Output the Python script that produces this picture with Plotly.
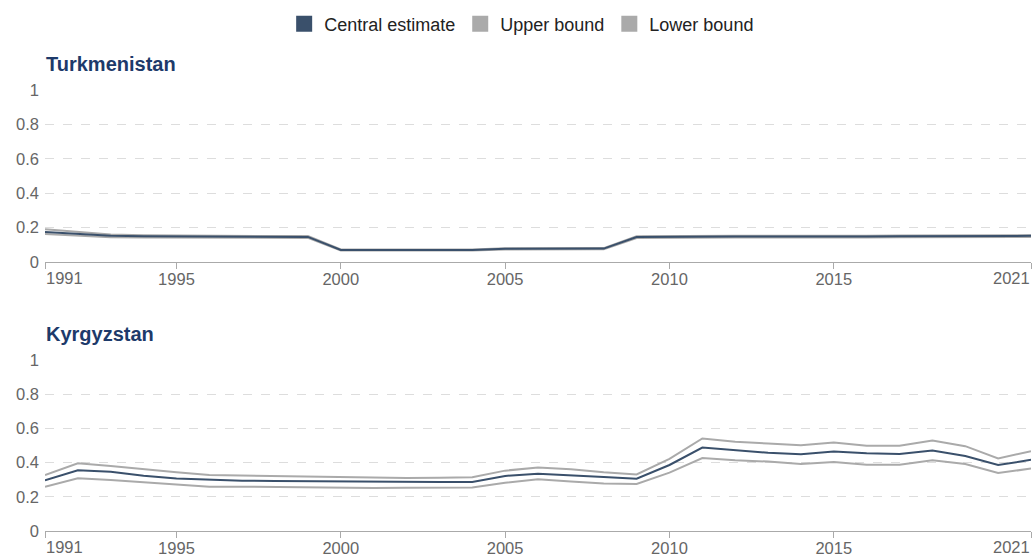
import plotly.graph_objects as go

years = list(range(1991, 2022))

tkm_central = [0.175, 0.163, 0.152, 0.150, 0.149, 0.149, 0.147, 0.146, 0.146, 0.070,
               0.070, 0.070, 0.070, 0.070, 0.077, 0.077, 0.078, 0.078, 0.145, 0.147,
               0.147, 0.148, 0.148, 0.147, 0.147, 0.148, 0.150, 0.151, 0.152, 0.152, 0.152]
tkm_upper = [0.190, 0.175, 0.160, 0.156, 0.154, 0.154, 0.152, 0.151, 0.151, 0.073,
             0.073, 0.073, 0.073, 0.073, 0.080, 0.080, 0.081, 0.081, 0.149, 0.151,
             0.151, 0.152, 0.152, 0.151, 0.151, 0.152, 0.154, 0.155, 0.156, 0.156, 0.156]
tkm_lower = [0.163, 0.153, 0.144, 0.143, 0.142, 0.142, 0.141, 0.140, 0.140, 0.067,
             0.067, 0.067, 0.067, 0.067, 0.073, 0.073, 0.074, 0.074, 0.139, 0.141,
             0.141, 0.142, 0.142, 0.141, 0.141, 0.142, 0.144, 0.145, 0.146, 0.146, 0.146]

kgz_central = [0.296, 0.355, 0.346, 0.323, 0.307, 0.299, 0.294, 0.293, 0.291, 0.289,
               0.288, 0.286, 0.287, 0.287, 0.322, 0.335, 0.327, 0.316, 0.306, 0.386,
               0.488, 0.473, 0.457, 0.449, 0.465, 0.455, 0.451, 0.471, 0.439, 0.386, 0.416]
kgz_upper = [0.327, 0.396, 0.380, 0.360, 0.343, 0.327, 0.324, 0.322, 0.318, 0.314,
             0.312, 0.310, 0.312, 0.314, 0.353, 0.371, 0.361, 0.343, 0.331, 0.422,
             0.541, 0.522, 0.512, 0.502, 0.518, 0.498, 0.498, 0.529, 0.496, 0.424, 0.467]
kgz_lower = [0.259, 0.308, 0.298, 0.284, 0.273, 0.259, 0.259, 0.257, 0.253, 0.251,
             0.251, 0.253, 0.255, 0.255, 0.282, 0.302, 0.290, 0.278, 0.275, 0.341,
             0.427, 0.414, 0.406, 0.392, 0.404, 0.388, 0.388, 0.414, 0.392, 0.339, 0.365]

y_ticks = [0, 0.2, 0.4, 0.6, 0.8, 1]
y_ticktext = ["0", "0.2", "0.4", "0.6", "0.8", "1"]
x_ticks = [1991, 1995, 2000, 2005, 2010, 2015, 2021]
panel_titles = ["Turkmenistan", "Kyrgyzstan"]

# the first and last year labels are drawn separately, aligned inward
x_ticktext = [str(v) for v in x_ticks]
x_ticktext[0] = ""
x_ticktext[-1] = ""

CENTRAL = "#3a506b"
BOUND = "#aaaaaa"
TITLE = "#1d3a6a"
FONT = "Liberation Sans, Arial, sans-serif"
TICK_FONT = dict(size=16.5, color="#666666", family=FONT)

W, H = 1033, 557
fig = go.Figure()

panels = [
    (tkm_central, tkm_upper, tkm_lower, "x", "y"),
    (kgz_central, kgz_upper, kgz_lower, "x2", "y2"),
]
for central, upper, lower, xa, ya in panels:
    for vals in (upper, lower):
        fig.add_trace(go.Scatter(x=years, y=vals, mode="lines", xaxis=xa, yaxis=ya,
                                 line=dict(color=BOUND, width=2), showlegend=False,
                                 hoverinfo="skip"))
    fig.add_trace(go.Scatter(x=years, y=central, mode="lines", xaxis=xa, yaxis=ya,
                             line=dict(color=CENTRAL, width=2), showlegend=False))

# legend entries shown as squares
for name, col in [("Central estimate", CENTRAL), ("Upper bound", BOUND), ("Lower bound", BOUND)]:
    fig.add_trace(go.Scatter(x=[None], y=[None], mode="markers", name=name,
                             marker=dict(symbol="square", size=17, color=col)))

x_dom = [45 / W, 1031 / W]
y_doms = [[(H - 262) / H, (H - 90) / H], [(H - 531) / H, (H - 360) / H]]

xaxis_style = dict(
    domain=x_dom, range=[1991, 2021], tickvals=x_ticks, ticktext=x_ticktext,
    ticks="outside", ticklen=6, tickcolor="#aaaaaa", showline=True, linecolor="#aaaaaa",
    linewidth=1, showgrid=False, zeroline=False, tickfont=TICK_FONT, automargin=False,
    ticklabelstandoff=-4,
)
yaxis_style = dict(
    range=[0, 1], tickvals=y_ticks, ticktext=y_ticktext, showgrid=True,
    gridcolor="#dddddd", griddash="dash", gridwidth=1, zeroline=False, showline=False,
    ticks="", ticklabelstandoff=5, tickfont=TICK_FONT, automargin=False,
)

fig.update_layout(
    width=W, height=H, margin=dict(l=0, r=0, t=0, b=0, autoexpand=False),
    paper_bgcolor="white", plot_bgcolor="white",
    font=dict(family=FONT, size=16, color="#222222"),
    xaxis=dict(**xaxis_style, anchor="y"),
    yaxis=dict(**yaxis_style, domain=y_doms[0], anchor="x"),
    xaxis2=dict(**xaxis_style, anchor="y2"),
    yaxis2=dict(**yaxis_style, domain=y_doms[1], anchor="x2"),
    legend=dict(orientation="h", x=0.505, xanchor="center", y=1 - 24 / H, yanchor="middle",
                font=dict(size=18, color="#222222", family=FONT), itemclick=False),
    showlegend=True,
)

for xa, ya in [("x", "y domain"), ("x2", "y2 domain")]:
    for year, anchor in [(x_ticks[0], "left"), (x_ticks[-1], "right")]:
        fig.add_annotation(text=str(year), xref=xa, yref=ya, x=year, y=0,
                           xanchor=anchor, yanchor="middle", yshift=-16, showarrow=False,
                           borderpad=0, font=TICK_FONT)

title_y = [(H - 64) / H, (H - 334) / H]
for text, ty in zip(panel_titles, title_y):
    fig.add_annotation(text=f"<b>{text}</b>", xref="paper", yref="paper", x=44 / W, y=ty,
                       xanchor="left", yanchor="middle", showarrow=False,
                       font=dict(size=20, color=TITLE, family=FONT))

fig.write_html("out.html")
